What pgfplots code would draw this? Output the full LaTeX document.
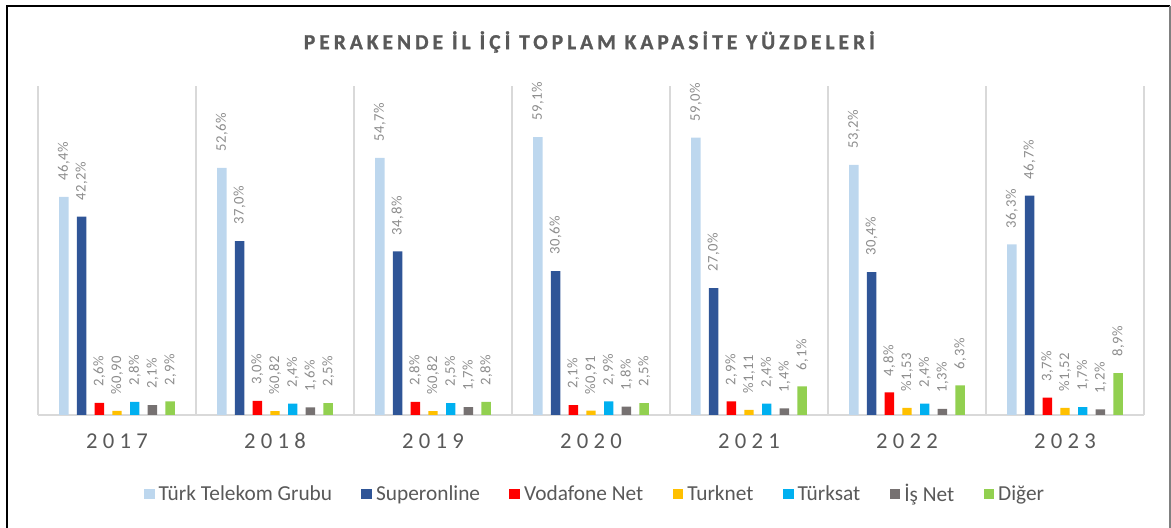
\documentclass[border=0pt]{standalone}
\usepackage{pgfplots}
\pgfplotsset{compat=1.18}
\usepackage{fontspec}
\setmainfont{Carlito}
\newfontfamily\titlefont[LetterSpace=19,FakeBold=1.2]{Carlito}
\newfontfamily\tickfont[LetterSpace=23]{Carlito}
\newfontfamily\labfont[LetterSpace=4]{Carlito}

\definecolor{ttg}{HTML}{BDD7EE}
\definecolor{son}{HTML}{2F5597}
\definecolor{vdf}{HTML}{FF0000}
\definecolor{tkn}{HTML}{FFC000}
\definecolor{tks}{HTML}{00B0F0}
\definecolor{isn}{HTML}{767171}
\definecolor{dgr}{HTML}{92D050}
\definecolor{txt}{HTML}{595959}
\definecolor{lab}{HTML}{8C8C8C}
\definecolor{gridc}{HTML}{D9D9D9}

\begin{document}
\begin{tikzpicture}
\path[use as bounding box] (0,0) rectangle (878.25pt,396pt);
% frame
\draw[line width=1.5pt] (5.5pt,0) -- (5.5pt,391.5pt) -- (877.5pt,391.5pt);
\draw[line width=1pt, gray] (877.5pt,391.5pt) -- (877.5pt,0);
% title
\node[font=\titlefont\fontsize{16}{18}\selectfont\bfseries, text=txt]
  at (442pt,364.5pt) {PERAKENDE İL İÇİ TOPLAM KAPASİTE YÜZDELERİ};

\begin{axis}[
  at={(28.5pt,84.75pt)}, anchor=south west,
  scale only axis, width=829.5pt, height=246.75pt,
  xmin=-0.5, xmax=6.5, ymin=0, ymax=70,
  axis y line=none, axis x line*=bottom,
  x axis line style={draw=gridc, line width=1pt, -},
  ybar=6.2pt, bar width=7.1pt,
  xtick={0,...,6},
  xticklabels={2017,2018,2019,2020,2021,2022,2023},
  major tick length=0,
  minor xtick={-0.5,0.5,...,6.5},
  xminorgrids, minor tick length=0,
  minor grid style={draw=gridc, line width=1pt},
  xticklabel style={font=\tickfont\fontsize{17}{18}\selectfont, text=txt, anchor=base, yshift=-25.5pt},
  nodes near coords, point meta=explicit symbolic,
  every node near coord/.append style={rotate=90, anchor=west, font=\labfont\fontsize{11}{12}\selectfont, text=lab, inner xsep=12pt, inner ysep=1pt},
  legend columns=-1,
  legend image code/.code={\fill[#1] (0pt,-4pt) rectangle (8pt,4pt);},
  legend style={draw=none, at={(0.504,-0.24)}, anchor=center,
    font=\fontsize{16}{18}\selectfont, text=txt,
    /tikz/every odd column/.append style={column sep=1pt},
    /tikz/every even column/.append style={column sep=20pt}},
]
\addplot[draw=none, fill=ttg] coordinates {
  (0,46.4) [46,4\%] (1,52.6) [52,6\%] (2,54.7) [54,7\%] (3,59.1) [59,1\%]
  (4,59.0) [59,0\%] (5,53.2) [53,2\%] (6,36.3) [36,3\%]};
\addplot[draw=none, fill=son] coordinates {
  (0,42.2) [42,2\%] (1,37.0) [37,0\%] (2,34.8) [34,8\%] (3,30.6) [30,6\%]
  (4,27.0) [27,0\%] (5,30.4) [30,4\%] (6,46.7) [46,7\%]};
\addplot[draw=none, fill=vdf] coordinates {
  (0,2.6) [2,6\%] (1,3.0) [3,0\%] (2,2.8) [2,8\%] (3,2.1) [2,1\%]
  (4,2.9) [2,9\%] (5,4.8) [4,8\%] (6,3.7) [3,7\%]};
\addplot[draw=none, fill=tkn] coordinates {
  (0,0.90) [\%0,90] (1,0.82) [\%0,82] (2,0.82) [\%0,82] (3,0.91) [\%0,91]
  (4,1.11) [\%1,11] (5,1.53) [\%1,53] (6,1.52) [\%1,52]};
\addplot[draw=none, fill=tks] coordinates {
  (0,2.8) [2,8\%] (1,2.4) [2,4\%] (2,2.5) [2,5\%] (3,2.9) [2,9\%]
  (4,2.4) [2,4\%] (5,2.4) [2,4\%] (6,1.7) [1,7\%]};
\addplot[draw=none, fill=isn] coordinates {
  (0,2.1) [2,1\%] (1,1.6) [1,6\%] (2,1.7) [1,7\%] (3,1.8) [1,8\%]
  (4,1.4) [1,4\%] (5,1.3) [1,3\%] (6,1.2) [1,2\%]};
\addplot[draw=none, fill=dgr] coordinates {
  (0,2.9) [2,9\%] (1,2.5) [2,5\%] (2,2.8) [2,8\%] (3,2.5) [2,5\%]
  (4,6.1) [6,1\%] (5,6.3) [6,3\%] (6,8.9) [8,9\%]};
\legend{Türk Telekom Grubu, Superonline, Vodafone Net, Turknet, Türksat, İş Net, Diğer}
\end{axis}
\end{tikzpicture}
\end{document}
